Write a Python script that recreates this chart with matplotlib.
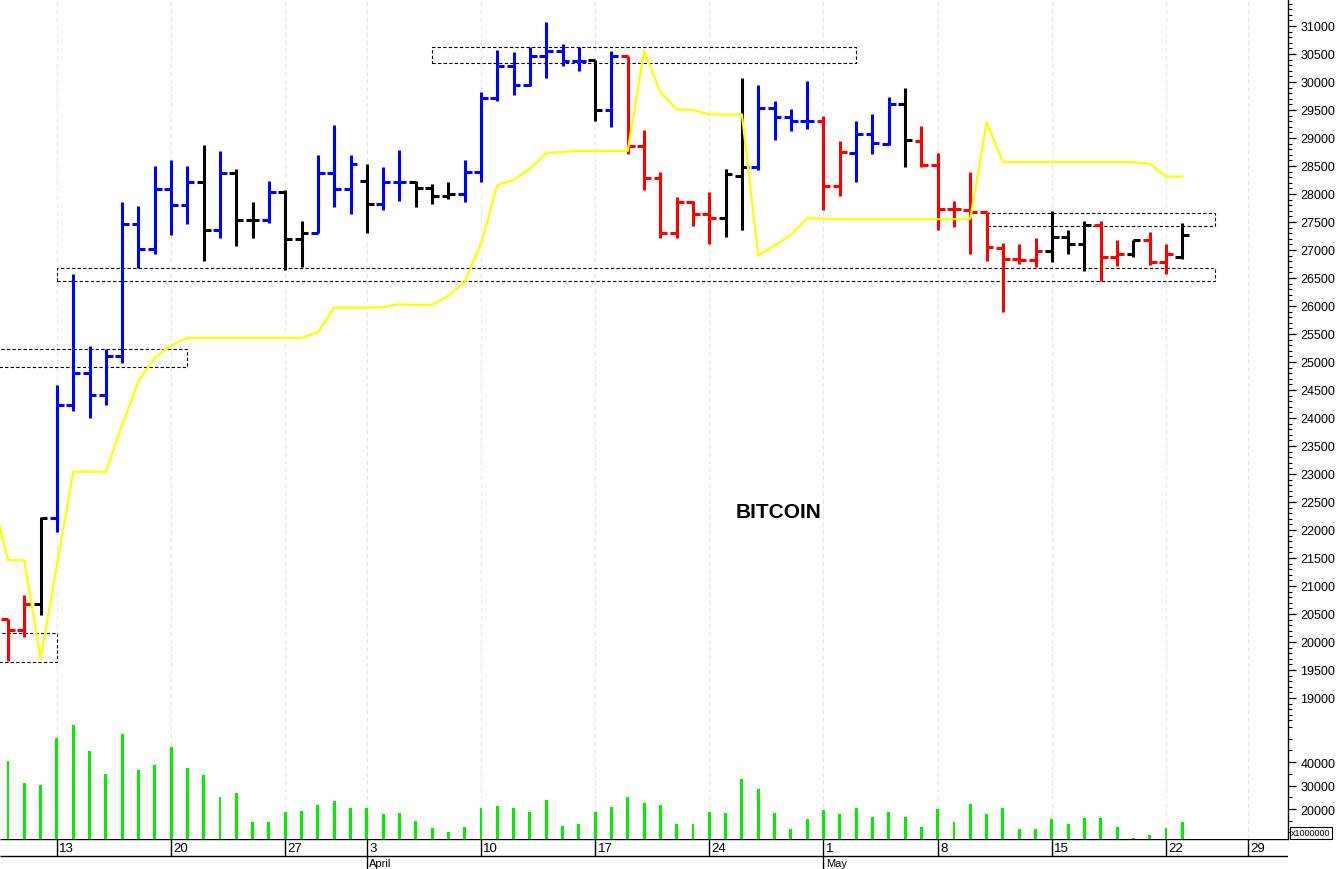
import numpy as np
import matplotlib
matplotlib.use("Agg")
import matplotlib.pyplot as plt
from matplotlib.patches import Rectangle
from matplotlib.ticker import MultipleLocator, FixedLocator

plt.rcParams['font.family'] = ['Liberation Sans', 'DejaVu Sans']

# daily OHLC, bar 0 = 10 March 2023
opens = [20410, 20210, 20670, 22210, 24240, 24800, 24410, 25110, 27470, 27020,
         28090, 27800, 28220, 27360, 28370, 27540, 27540, 28040, 27200, 27300,
         28380, 28090, 28230, 27830, 28220, 28220, 28110, 27970, 28000, 28390,
         29710, 30280, 29950, 30460, 30550, 30370, 30390, 29500, 30460, 28860,
         28290, 27300, 27850, 27640, 27570, 28330, 28480, 29530, 29380, 29310,
         29300, 28140, 28740, 29080, 28900, 29610, 28950, 28510, 27730, 27710,
         27680, 27030, 26840, 26820, 26980, 27230, 27100, 27450, 26870, 26930,
         27180, 26780, 26880]
highs = [20410, 20840, 22230, 24590, 26580, 25290, 25240, 27850, 27780, 28500,
         28600, 28500, 28870, 28770, 28450, 27850, 28230, 28080, 27520, 28690,
         29240, 28700, 28530, 28490, 28790, 28240, 28170, 28220, 28610, 29830,
         30580, 30530, 30620, 31080, 30680, 30630, 30390, 30550, 30460, 29140,
         28400, 27940, 27880, 28040, 28450, 30070, 29950, 29660, 29520, 30020,
         29390, 28940, 29310, 29430, 29740, 29890, 29210, 28730, 27880, 28390,
         27680, 27120, 27110, 27210, 27700, 27350, 27520, 27520, 27180, 27180,
         27320, 27110, 27490]
lows = [19660, 20090, 20480, 21970, 24130, 24000, 24240, 24990, 26680, 26930,
        27270, 27470, 26800, 27220, 27070, 27220, 27490, 26650, 26700, 27300,
        27770, 27640, 27310, 27720, 27880, 27770, 27820, 27910, 27850, 28220,
        29660, 29760, 29920, 30080, 30280, 30200, 29300, 29190, 28710, 28070,
        27210, 27210, 27430, 27110, 27240, 27360, 28430, 28960, 29120, 29160,
        27710, 27960, 28210, 28710, 28880, 28490, 28480, 27350, 27410, 26920,
        26810, 25900, 26750, 26690, 26790, 26920, 26620, 26450, 26710, 26880,
        26740, 26580, 26840]
closes = [20210, 20670, 22210, 24240, 24800, 24410, 25110, 27470, 27020, 28090,
          27800, 28220, 27360, 28370, 27540, 27540, 28040, 27200, 27300, 28380,
          28090, 28530, 27830, 28220, 28220, 28110, 27970, 28000, 28390, 29710,
          30280, 29950, 30460, 30550, 30370, 30370, 29500, 30460, 28860, 28290,
          27300, 27850, 27640, 27570, 28350, 28480, 29530, 29380, 29310, 29310,
          28140, 28750, 29070, 28910, 29610, 28960, 28510, 27730, 27730, 27680,
          27050, 26840, 26820, 26990, 27230, 27100, 27450, 26870, 26930, 27180,
          26790, 26930, 27270]
# trend state of each bar: B = up, K = neutral, R = down
trend = "RRKBBBBBBBBBKBKKBKKBBBKBBKKKBBBBBBBBKBRRRRRRKKBBBBRRBBBKRRRRRRRRKKKRRKRRK"
volume = [40400, 31100, 30200, 50200, 55700, 44700, 34900, 51900, 36600, 38700,
          46400, 37400, 34500, 25100, 26800, 14300, 14600, 18700, 19100, 21700,
          23400, 20400, 20400, 17900, 18300, 14900, 11800, 10100, 12500, 20400,
          21300, 20400, 18700, 23800, 12800, 13600, 18700, 20900, 25100, 22600,
          21700, 13600, 13600, 18700, 18300, 32800, 28500, 18300, 11500, 15700,
          19600, 17900, 20400, 16600, 18700, 16600, 12500, 20000, 14600, 22100,
          17900, 20400, 11300, 11500, 15700, 13600, 16200, 16200, 12500, 7700,
          8900, 11800, 14300]

# yellow stop line, starts one day before the first bar
stop_line = [22630,
             21460, 21460, 19700, 21370, 23040, 23040, 23040, 23880, 24660, 25080,
             25300, 25430, 25430, 25430, 25430, 25430, 25430, 25430, 25430, 25530,
             25970, 25970, 25970, 25980, 26030, 26020, 26020, 26180, 26430, 27110,
             28160, 28250, 28450, 28730, 28750, 28770, 28770, 28770, 28770, 30560,
             29820, 29510, 29500, 29420, 29420, 29420, 26900, 27080, 27270, 27570,
             27560, 27550, 27550, 27550, 27550, 27550, 27550, 27550, 27550, 27560,
             29280, 28570, 28570, 28570, 28570, 28570, 28570, 28570, 28570, 28570,
             28540, 28310, 28310]

# support / resistance zones (bar index from-to, price low-high)
zone_from = [-1, -1, 3, 26, 60]
zone_to = [3, 11, 74, 52, 74]
zone_low = [19640, 24910, 26450, 30340, 27420]
zone_high = [20160, 25230, 26680, 30620, 27660]

week_idx = [3, 10, 17, 22, 29, 36, 43, 50, 57, 64, 71, 76]
week_lbl = ['13', '20', '27', '3', '10', '17', '24', '1', '8', '15', '22', '29']
month_idx = [22, 50]
month_lbl = ['April', 'May']

colmap = {'B': '#0000ff', 'K': '#000000', 'R': '#ff0000'}
cols = [colmap[c] for c in trend]
x = np.arange(len(opens))
xs = np.arange(-1, len(stop_line) - 1)

W, H = 1336, 870
fig = plt.figure(figsize=(W / 100, H / 100), dpi=100)
right = 1288 / W
ax = fig.add_axes([0, (H - 722) / H, right, 722 / H])
axv = fig.add_axes([0, 30 / H, right, (840 - 722) / H])
axd = fig.add_axes([0, 0, right, 30 / H])
xlim = (-0.49, 78.48)

# price panel
for a in (ax, axv):
    a.vlines(week_idx, 0, 1, transform=a.get_xaxis_transform(), colors='#e6e6e6',
             linestyles=(0, (4, 3)), lw=0.8, zorder=0)
for i in range(len(zone_from)):
    ax.add_patch(Rectangle((zone_from[i], zone_low[i]), zone_to[i] - zone_from[i],
                           zone_high[i] - zone_low[i], fill=False, ec='black',
                           lw=0.8, ls=(0, (3, 2)), zorder=1))
ax.vlines(x, lows, highs, colors=cols, lw=2.2, capstyle='butt', zorder=2)
ax.hlines(opens, x - 0.42, x, colors=cols, lw=2.2, capstyle='butt', zorder=2)
ax.hlines(closes, x, x + 0.42, colors=cols, lw=2.2, capstyle='butt', zorder=2)
ax.plot(xs, stop_line, color='#ffff00', lw=1.6, zorder=3)
ax.text(0.6048, 0.2895, 'BITCOIN', transform=ax.transAxes, fontsize=15,
        fontweight='bold', ha='center', va='center')

ax.set_xlim(xlim)
ax.set_ylim(18589, 31482)
ax.yaxis.tick_right()
ax.yaxis.set_major_locator(FixedLocator(range(19000, 31001, 500)))
ax.yaxis.set_minor_locator(MultipleLocator(100))
ax.set_xticks([])

# volume panel
axv.bar(x, volume, width=0.18, color='#00f000', zorder=2)
axv.set_xlim(xlim)
axv.set_ylim(7234, 57447)
axv.yaxis.tick_right()
axv.set_yticks([20000, 30000, 40000])
axv.yaxis.set_minor_locator(MultipleLocator(5000))
axv.set_xticks([])

for a in (ax, axv):
    for s in ('top', 'left', 'bottom'):
        a.spines[s].set_visible(False)
    a.spines['right'].set_linewidth(1.0)
    a.tick_params(axis='y', which='major', length=6, width=0.9, labelsize=9, pad=3)
    a.tick_params(axis='y', which='minor', length=3, width=0.8)

fig.text(1291 / W, 1 - 834 / H, 'x1000000', fontsize=6.5, ha='left', va='center',
         bbox=dict(boxstyle='square,pad=0.15', fc='white', ec='black', lw=0.8))

# date strip
axd.set_xlim(xlim)
axd.set_ylim(30, 0)
axd.axis('off')
axd.hlines([0, 17], xlim[0], xlim[1], colors='black', lw=1.0)
axd.vlines(week_idx, 0, 17, colors='black', lw=1.0)
axd.vlines(month_idx, 17, 30, colors='black', lw=1.0)
for i, t in zip(week_idx, week_lbl):
    axd.text(i + 0.15, 9, t, fontsize=9.5, ha='left', va='center')
for i, t in zip(month_idx, month_lbl):
    axd.text(i + 0.15, 24, t, fontsize=8, ha='left', va='center')

fig.savefig('out.png', dpi=100)
